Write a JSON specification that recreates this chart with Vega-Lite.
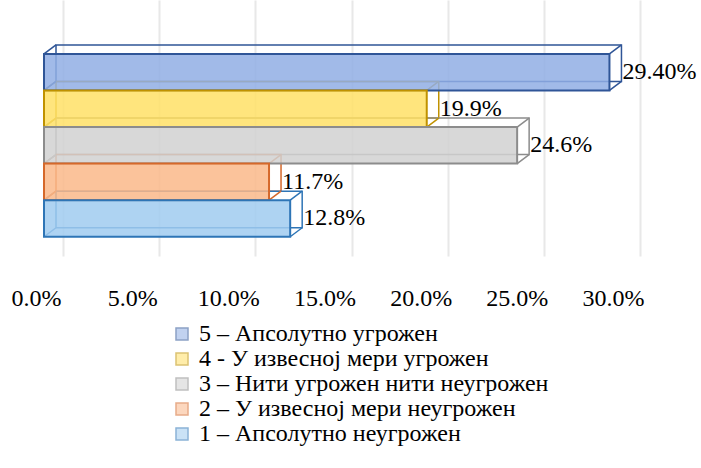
{
  "$schema": "https://vega.github.io/schema/vega-lite/v6.json",
  "width": 577,
  "height": 256,
  "autosize": {"type": "none"},
  "padding": {"left": 63, "top": 0, "right": 61, "bottom": 212},
  "background": "white",
  "data": {
    "values": [
      {"category": "5 – Апсолутно угрожен", "value": 0.294, "label": "29.40%"},
      {"category": "4 - У извесној мери угрожен", "value": 0.199, "label": "19.9%"},
      {"category": "3 – Нити угрожен нити неугрожен", "value": 0.246, "label": "24.6%"},
      {"category": "2 – У извесној мери неугрожен", "value": 0.117, "label": "11.7%"},
      {"category": "1 – Апсолутно неугрожен", "value": 0.128, "label": "12.8%"}
    ]
  },
  "config": {
    "font": "'Liberation Serif', 'DejaVu Serif', serif",
    "view": {"stroke": null},
    "axis": {"labelFont": "'Liberation Serif', 'DejaVu Serif', serif", "labelFontSize": 24, "labelColor": "#000000"},
    "axisX": {"grid": true, "gridColor": "#e8e8e8", "gridWidth": 2, "domain": false, "ticks": false, "labelPadding": 30, "labelOffset": -27, "labelFlush": false, "labelOverlap": false},
    "legend": {"labelFont": "'Liberation Serif', 'DejaVu Serif', serif"},
    "text": {"font": "'Liberation Serif', 'DejaVu Serif', serif"}
  },
  "layer": [
    {
      "mark": {"type": "bar", "fill": "transparent", "strokeWidth": 1.5, "xOffset": -7, "x2Offset": -7, "yOffset": -9, "y2Offset": -9},
      "encoding": {
        "x": {"field": "value", "type": "quantitative", "title": null, "scale": {"domain": [0, 0.3], "nice": false}, "axis": {"format": ".1%", "values": [0, 0.05, 0.1, 0.15, 0.2, 0.25, 0.3], "title": null}},
        "y": {"field": "category", "type": "nominal", "axis": null, "scale": {"domain": ["5 – Апсолутно угрожен", "4 - У извесној мери угрожен", "3 – Нити угрожен нити неугрожен", "2 – У извесној мери неугрожен", "1 – Апсолутно неугрожен"], "paddingInner": 0, "paddingOuter": 1.0556, "align": 0.7368}},
        "stroke": {"field": "category", "type": "nominal", "scale": {"domain": ["5 – Апсолутно угрожен", "4 - У извесној мери угрожен", "3 – Нити угрожен нити неугрожен", "2 – У извесној мери неугрожен", "1 – Апсолутно неугрожен"], "range": ["#2F5597", "#C09200", "#8C8C8C", "#D5682A", "#2E75B6"]}}
      }
    },
    {
      "mark": {"type": "rule", "strokeWidth": 1.5, "xOffset": -19, "x2Offset": -7, "yOffset": 0, "y2Offset": -9},
      "encoding": {
        "x": {"datum": 0, "type": "quantitative", "title": null},
        "x2": {"datum": 0},
        "y": {"field": "category", "type": "nominal", "bandPosition": 0},
        "y2": {"field": "category", "bandPosition": 0},
        "stroke": {"field": "category", "type": "nominal"}
      }
    },
    {
      "mark": {"type": "rule", "strokeWidth": 1.5, "xOffset": -19, "x2Offset": -7, "yOffset": 0, "y2Offset": -9},
      "encoding": {
        "x": {"datum": 0, "type": "quantitative", "title": null},
        "x2": {"datum": 0},
        "y": {"field": "category", "type": "nominal", "bandPosition": 1},
        "y2": {"field": "category", "bandPosition": 1},
        "stroke": {"field": "category", "type": "nominal"}
      }
    },
    {
      "mark": {"type": "rule", "strokeWidth": 1.5, "xOffset": -19, "x2Offset": -7, "yOffset": 0, "y2Offset": -9},
      "encoding": {
        "x": {"field": "value", "type": "quantitative", "title": null},
        "x2": {"field": "value"},
        "y": {"field": "category", "type": "nominal", "bandPosition": 0},
        "y2": {"field": "category", "bandPosition": 0},
        "stroke": {"field": "category", "type": "nominal"}
      }
    },
    {
      "mark": {"type": "rule", "strokeWidth": 1.5, "xOffset": -19, "x2Offset": -7, "yOffset": 0, "y2Offset": -9},
      "encoding": {
        "x": {"field": "value", "type": "quantitative", "title": null},
        "x2": {"field": "value"},
        "y": {"field": "category", "type": "nominal", "bandPosition": 1},
        "y2": {"field": "category", "bandPosition": 1},
        "stroke": {"field": "category", "type": "nominal"}
      }
    },
    {
      "mark": {"type": "bar", "fillOpacity": 0.85, "strokeWidth": 2, "xOffset": -19, "x2Offset": -19},
      "encoding": {
        "x": {"field": "value", "type": "quantitative", "title": null},
        "y": {"field": "category", "type": "nominal"},
        "color": {"field": "category", "type": "nominal", "scale": {"domain": ["5 – Апсолутно угрожен", "4 - У извесној мери угрожен", "3 – Нити угрожен нити неугрожен", "2 – У извесној мери неугрожен", "1 – Апсолутно неугрожен"], "range": ["#90AEE4", "#FFE066", "#D1D1D1", "#FAB88A", "#A0CBF0"]},
          "legend": {"orient": "none", "legendX": 107, "legendY": 322, "title": null, "labelFont": "'Liberation Serif', 'DejaVu Serif', serif", "labelFontSize": 24, "labelColor": "#000000", "symbolType": "square", "symbolSize": 144, "symbolOpacity": 0.55, "symbolStrokeWidth": 1.5, "rowPadding": 1, "labelOffset": 5, "labelLimit": 0}},
        "stroke": {"field": "category", "type": "nominal"}
      }
    },
    {
      "mark": {"type": "text", "align": "left", "baseline": "middle", "dx": -6, "font": "'Liberation Serif', 'DejaVu Serif', serif", "fontSize": 24, "color": "#000000"},
      "encoding": {
        "x": {"field": "value", "type": "quantitative", "title": null},
        "y": {"field": "category", "type": "nominal"},
        "text": {"field": "label"}
      }
    }
  ]
}
